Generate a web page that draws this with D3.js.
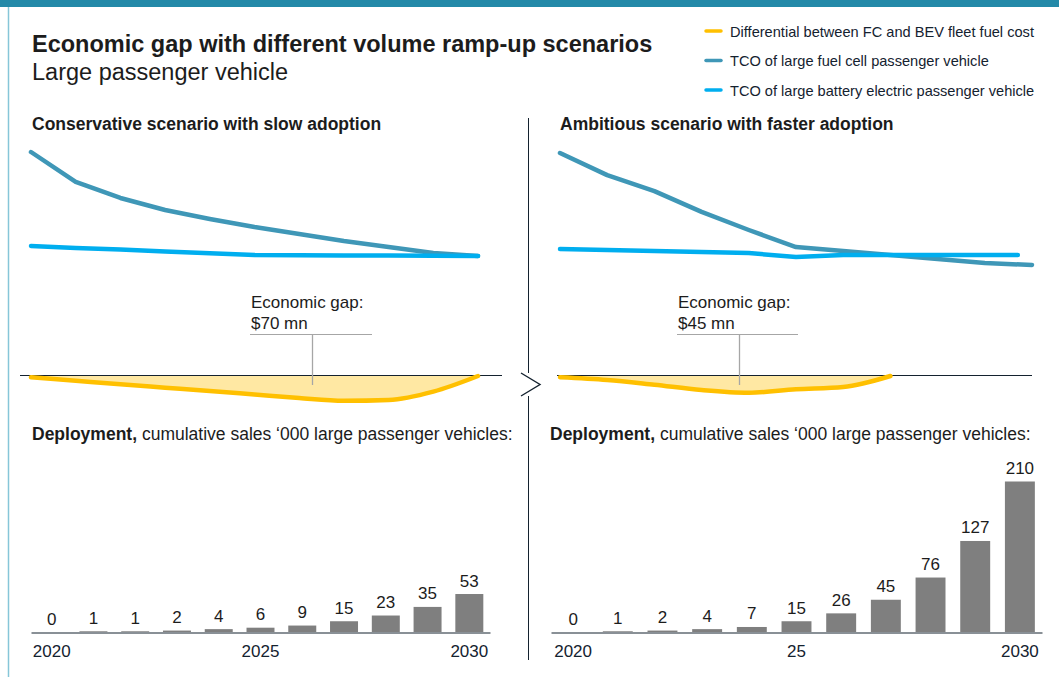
<!DOCTYPE html>
<html>
<head>
<meta charset="utf-8">
<script src="https://cdn.jsdelivr.net/npm/d3@7"></script>
<style>
  body { margin: 0; background: #fff; }
  svg { display: block; font-family: "Liberation Sans", Arial, Helvetica, sans-serif; }
</style>
</head>
<body>
<svg id="chart" width="1059" height="677"></svg>
<script>
// ---- data ----
const years = [2020, 2021, 2022, 2023, 2024, 2025, 2026, 2027, 2028, 2029, 2030];

// TCO, index (2020 fuel cell, conservative = 1.0)
const tcoFcSlow  = [1.000, 0.856, 0.779, 0.721, 0.678, 0.639, 0.606, 0.572, 0.543, 0.514, 0.500];
const tcoBevSlow = [0.548, 0.539, 0.531, 0.522, 0.513, 0.505, 0.504, 0.503, 0.502, 0.501, 0.500];
const tcoFcFast  = [0.995, 0.889, 0.812, 0.712, 0.625, 0.543, 0.524, 0.505, 0.486, 0.466, 0.457];
const bevFastYears = [2020, 2021, 2022, 2023, 2024, 2025, 2026, 2027, 2028, 2029, 2029.7];
const tcoBevFast = [0.534, 0.529, 0.524, 0.519, 0.514, 0.495, 0.505, 0.505, 0.505, 0.505, 0.505];

// Differential between FC and BEV fleet fuel cost, $ mn per year
const gapSlow = [-0.6, -2.3, -4.0, -5.6, -7.2, -8.9, -10.6, -11.9, -11.5, -7.5, 0];
const gapFastYears = [2020, 2021, 2022, 2023, 2024, 2025, 2026, 2027];
const gapFast = [-0.6, -1.9, -4.2, -6.7, -8.0, -6.4, -5.3, 0];
const gapTotals = ["$70 mn", "$45 mn"];

// Deployment, cumulative sales '000 vehicles
const salesSlow = [0, 1, 1, 2, 4, 6, 9, 15, 23, 35, 53];
const salesFast = [0, 1, 2, 4, 7, 15, 26, 45, 76, 127, 210];

const tickYears = [2020, 2025, 2030];
const tickLabelsSlow = ["2020", "2025", "2030"];
const tickLabelsFast = ["2020", "25", "2030"];

const panelTitles = ["Conservative scenario with slow adoption", "Ambitious scenario with faster adoption"];
const legendLabels = [
  "Differential between FC and BEV fleet fuel cost",
  "TCO of large fuel cell passenger vehicle",
  "TCO of large battery electric passenger vehicle"
];

// ---- styles ----
const C = {
  band: "#2389A8", frame: "#86C6D8", fc: "#3F97B7", bev: "#00AEEF",
  gapLine: "#FFC000", gapFill: "#FFE8A3", bar: "#7F7F7F",
  text: "#1c1c1c", navy: "#14222f", leader: "#A6A6A6"
};

const svg = d3.select("#chart");

// frame
svg.append("rect").attr("x", 0).attr("y", 0).attr("width", 1059).attr("height", 7).attr("fill", C.band);
svg.append("line").attr("x1", 8.5).attr("x2", 8.5).attr("y1", 7).attr("y2", 677)
  .attr("stroke", C.frame).attr("stroke-width", 1.5);

// titles
svg.append("text").attr("x", 32).attr("y", 52).attr("font-size", 23.5).attr("font-weight", "bold")
  .attr("fill", C.text).text("Economic gap with different volume ramp-up scenarios");
svg.append("text").attr("x", 32).attr("y", 80).attr("font-size", 23.5)
  .attr("fill", C.text).text("Large passenger vehicle");

// legend
const legendColors = [C.gapLine, C.fc, C.bev];
const legend = svg.append("g");
legendLabels.forEach((lab, i) => {
  const y = 31 + i * 29.5;
  legend.append("line").attr("x1", 706).attr("x2", 721).attr("y1", y).attr("y2", y)
    .attr("stroke", legendColors[i]).attr("stroke-width", 3.5).attr("stroke-linecap", "round");
  legend.append("text").attr("x", 730).attr("y", y + 5.5).attr("font-size", 14.6)
    .attr("fill", C.navy).text(lab);
});

// shared vertical scales
const yTco = d3.scaleLinear().domain([0.5, 1.0]).range([256, 152]);
const yGap = d3.scaleLinear().domain([-12, 0]).range([401, 376]);
const yBar = d3.scaleLinear().domain([0, 210]).range([632, 481.5]);

const panels = [
  {
    lineRange: [31, 478], barRange: [31, 490], baseRange: [20, 502], titleX: 32, depX: 32,
    fc: tcoFcSlow, bev: tcoBevSlow, bevYears: years, gap: gapSlow, gapYears: years,
    sales: salesSlow, ticks: tickLabelsSlow, gapText: gapTotals[0],
    annot: { x: 251, x2: 372, stem: 312 }
  },
  {
    lineRange: [560, 1032], barRange: [551, 1042], baseRange: [557, 1032], titleX: 560, depX: 550,
    fc: tcoFcFast, bev: tcoBevFast, bevYears: bevFastYears, gap: gapFast, gapYears: gapFastYears,
    sales: salesFast, ticks: tickLabelsFast, gapText: gapTotals[1],
    annot: { x: 678, x2: 798, stem: 739 }
  }
];

panels.forEach((p, pi) => {
  const g = svg.append("g");
  const x = d3.scaleLinear().domain([2020, 2030]).range(p.lineRange);

  // panel heading
  g.append("text").attr("x", p.titleX).attr("y", 130).attr("font-size", 17.5).attr("font-weight", "bold")
    .attr("fill", C.text).text(panelTitles[pi]);

  // TCO lines
  const line = d3.line().x(d => x(d[0])).y(d => yTco(d[1]));
  g.append("path").datum(d3.zip(years, p.fc)).attr("d", line)
    .attr("fill", "none").attr("stroke", C.fc).attr("stroke-width", 4.5)
    .attr("stroke-linecap", "round").attr("stroke-linejoin", "round");
  g.append("path").datum(d3.zip(p.bevYears, p.bev)).attr("d", line)
    .attr("fill", "none").attr("stroke", C.bev).attr("stroke-width", 4.5)
    .attr("stroke-linecap", "round").attr("stroke-linejoin", "round");

  // economic gap area
  const gapData = d3.zip(p.gapYears, p.gap);
  const area = d3.area().x(d => x(d[0])).y0(yGap(0)).y1(d => yGap(d[1])).curve(d3.curveMonotoneX);
  g.append("path").datum(gapData).attr("d", area).attr("fill", C.gapFill);
  g.append("line").attr("x1", p.baseRange[0]).attr("x2", p.baseRange[1])
    .attr("y1", yGap(0) - 0.5).attr("y2", yGap(0) - 0.5).attr("stroke", C.navy).attr("stroke-width", 1);
  const gapLine = d3.line().x(d => x(d[0])).y(d => yGap(d[1])).curve(d3.curveMonotoneX);
  g.append("path").datum(gapData).attr("d", gapLine)
    .attr("fill", "none").attr("stroke", C.gapLine).attr("stroke-width", 4.5)
    .attr("stroke-linecap", "round");

  // annotation
  g.append("line").attr("x1", p.annot.x - 1).attr("x2", p.annot.x2).attr("y1", 334.5).attr("y2", 334.5)
    .attr("stroke", C.leader).attr("stroke-width", 1);
  g.append("line").attr("x1", p.annot.stem + 0.5).attr("x2", p.annot.stem + 0.5).attr("y1", 334).attr("y2", 385)
    .attr("stroke", C.leader).attr("stroke-width", 1.3);
  g.append("text").attr("x", p.annot.x).attr("y", 308).attr("font-size", 17).attr("fill", C.text)
    .text("Economic gap:");
  g.append("text").attr("x", p.annot.x).attr("y", 329).attr("font-size", 17).attr("fill", C.text)
    .text(p.gapText);

  // deployment heading
  const dep = g.append("text").attr("x", p.depX).attr("y", 440).attr("font-size", 17.5).attr("fill", C.text);
  dep.append("tspan").attr("font-weight", "bold").text("Deployment,");
  dep.append("tspan").text(" cumulative sales \u2018000 large passenger vehicles:");

  // bars
  const xb = d3.scaleBand().domain(years).range(p.barRange).paddingInner(0.33).paddingOuter(0.16);
  const barData = d3.zip(years, p.sales);
  g.selectAll(".bar").data(barData).enter().append("rect")
    .attr("x", d => xb(d[0])).attr("width", xb.bandwidth())
    .attr("y", d => yBar(d[1])).attr("height", d => yBar(0) - yBar(d[1]))
    .attr("fill", C.bar);
  g.selectAll(".val").data(barData).enter().append("text")
    .attr("x", d => xb(d[0]) + xb.bandwidth() / 2).attr("y", d => yBar(d[1]) - 7.5)
    .attr("text-anchor", "middle").attr("font-size", 17).attr("fill", C.text)
    .text(d => d[1]);

  // year axis
  const axis = d3.axisBottom(xb).tickValues(tickYears).tickSize(0).tickPadding(12)
    .tickFormat((d, i) => p.ticks[i]);
  const ax = g.append("g").attr("transform", `translate(0,${yBar(0) + 0.5})`).call(axis);
  ax.select(".domain").attr("stroke", C.navy).attr("stroke-width", 1.2);
  ax.selectAll("text").attr("font-size", 17).attr("fill", C.navy)
    .attr("font-family", "\"Liberation Sans\", Arial, sans-serif");
});

// divider with chevron
svg.append("line").attr("x1", 528.5).attr("x2", 528.5).attr("y1", 118).attr("y2", 373)
  .attr("stroke", C.navy).attr("stroke-width", 1);
svg.append("line").attr("x1", 528.5).attr("x2", 528.5).attr("y1", 396).attr("y2", 660)
  .attr("stroke", C.navy).attr("stroke-width", 1);
svg.append("polyline").attr("points", "521,373 540,384.5 521,396")
  .attr("fill", "none").attr("stroke", C.navy).attr("stroke-width", 1.4);
</script>
</body>
</html>
